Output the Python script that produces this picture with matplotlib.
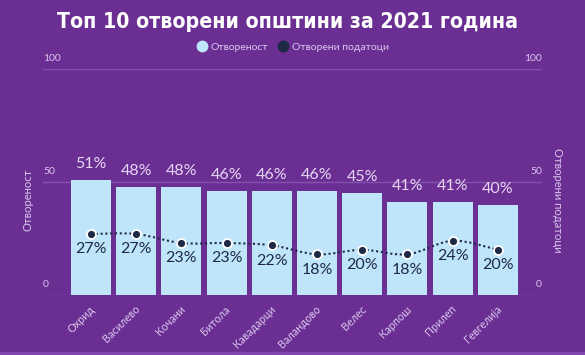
import numpy as np
import matplotlib
matplotlib.use("Agg")
import matplotlib.pyplot as plt
from matplotlib import font_manager
from matplotlib.path import Path
from matplotlib.patches import PathPatch
from matplotlib.lines import Line2D
import matplotlib.transforms as mtransforms

municipalities = ["Охрид", "Василево", "Кочани", "Битола", "Кавадарци",
                  "Валандово", "Велес", "Карпош", "Прилеп", "Гевгелија"]
openness = [51, 48, 48, 46, 46, 46, 45, 41, 41, 40]
open_data = [27, 27, 23, 23, 22, 18, 20, 18, 24, 20]
yticks = [0, 50, 100]

BG = "#6B2F93"
BAR = "#BFE5FA"
NAVY = "#1E2A45"
LAV = "#E6D6F4"
TICK = "#D9C6EE"
GRID = "#8452AD"

names = {f.name for f in font_manager.fontManager.ttflist}
BODY = "Lato" if "Lato" in names else "DejaVu Sans"
plt.rcParams["font.family"] = [BODY, "DejaVu Sans"]

fig = plt.figure(figsize=(5.85, 3.55), dpi=100, facecolor=BG)
ax = fig.add_axes([43 / 585, 1 - 295 / 355, (542 - 43) / 585, (295 - 69) / 355])
ax.set_facecolor(BG)

x = np.arange(len(municipalities))
step = 45.2
ax.set_xlim((43 - 91) / step, (542 - 91) / step)
ax.set_ylim(0, 100)

for yv in yticks:
    ax.axhline(yv, color=GRID, lw=1, zorder=0)
    ax.annotate(str(yv), (0, yv), xycoords=("axes fraction", "data"),
                xytext=(0, 4), textcoords="offset points", ha="left",
                va="bottom", fontsize=7.5, color=TICK)
    ax.annotate(str(yv), (1, yv), xycoords=("axes fraction", "data"),
                xytext=(0, 4), textcoords="offset points", ha="right",
                va="bottom", fontsize=7.5, color=TICK)

ax.bar(x, openness, width=0.885, color=BAR, zorder=2)
for xi, v in zip(x, openness):
    ax.annotate(f"{v}%", (xi, v), xytext=(0, 11.5), textcoords="offset points",
                ha="center", va="center", fontsize=11.5, color=LAV)

# smooth dotted line through the points (Catmull-Rom as cubic Bezier)
pts = np.column_stack([x, open_data]).astype(float)
verts = [tuple(pts[0])]
codes = [Path.MOVETO]
for i in range(len(pts) - 1):
    p0 = pts[max(i - 1, 0)]
    p1, p2 = pts[i], pts[i + 1]
    p3 = pts[min(i + 2, len(pts) - 1)]
    c1 = p1 + (p2 - p0) / 6
    c2 = p2 - (p3 - p1) / 6
    verts += [tuple(c1), tuple(c2), tuple(p2)]
    codes += [Path.CURVE4] * 3
ax.add_patch(PathPatch(Path(verts, codes), fill=False, edgecolor=NAVY,
                       lw=1.5, linestyle=(0, (1, 1.3)), zorder=3))
ax.scatter(x, open_data, s=42, color=NAVY, edgecolor="white", lw=1.3, zorder=4)
for xi, v in zip(x, open_data):
    ax.annotate(f"{v}%", (xi, v), xytext=(0, -11), textcoords="offset points",
                ha="center", va="center", fontsize=11.5, color=NAVY, zorder=5)

ax.set_yticks([])
ax.set_xticks(x)
ax.set_xticklabels(municipalities, rotation=45, ha="right", va="top",
                   fontsize=7.8, color=TICK)
ax.tick_params(axis="x", length=0, pad=6)
offset = mtransforms.ScaledTranslation(6 / 100, 0, fig.dpi_scale_trans)
for lab in ax.get_xticklabels():
    lab.set_transform(lab.get_transform() + offset)
for s in ax.spines.values():
    s.set_visible(False)

fig.text(28 / 585, 1 - 200 / 355, "Отвореност", rotation=90, ha="center",
         va="center", fontsize=8, color=TICK)
fig.text(557 / 585, 1 - 200 / 355, "Отворени податоци", rotation=270,
         ha="center", va="center", fontsize=8, color=TICK)

title = fig.text(287.5 / 585, 1 - 22 / 355, "Топ 10 отворени општини за 2021 година",
                 ha="center", va="center", fontsize=19, fontweight="bold",
                 color="white", fontstretch="condensed",
                 family=["DejaVu Sans"])
# size the title so it spans the same width as in the reference
renderer = fig.canvas.get_renderer()
w = title.get_window_extent(renderer).width
title.set_fontsize(19 * 459 / w)

handles = [Line2D([], [], marker="o", ls="none", ms=7.5, color=BAR),
           Line2D([], [], marker="o", ls="none", ms=7.5, color=NAVY)]
fig.legend(handles, ["Отвореност", "Отворени податоци"], ncol=2,
           loc="center", bbox_to_anchor=(0.5, 1 - 47 / 355), frameon=False,
           fontsize=7.5, labelcolor=TICK, handletextpad=0.3, columnspacing=1.0,
           handlelength=1.0)

fig.patches.append(plt.Rectangle((0, 0), 1, 3 / 355, transform=fig.transFigure,
                                 color="#8346B0", zorder=0))

fig.savefig("out.png", dpi=100, facecolor=BG)
